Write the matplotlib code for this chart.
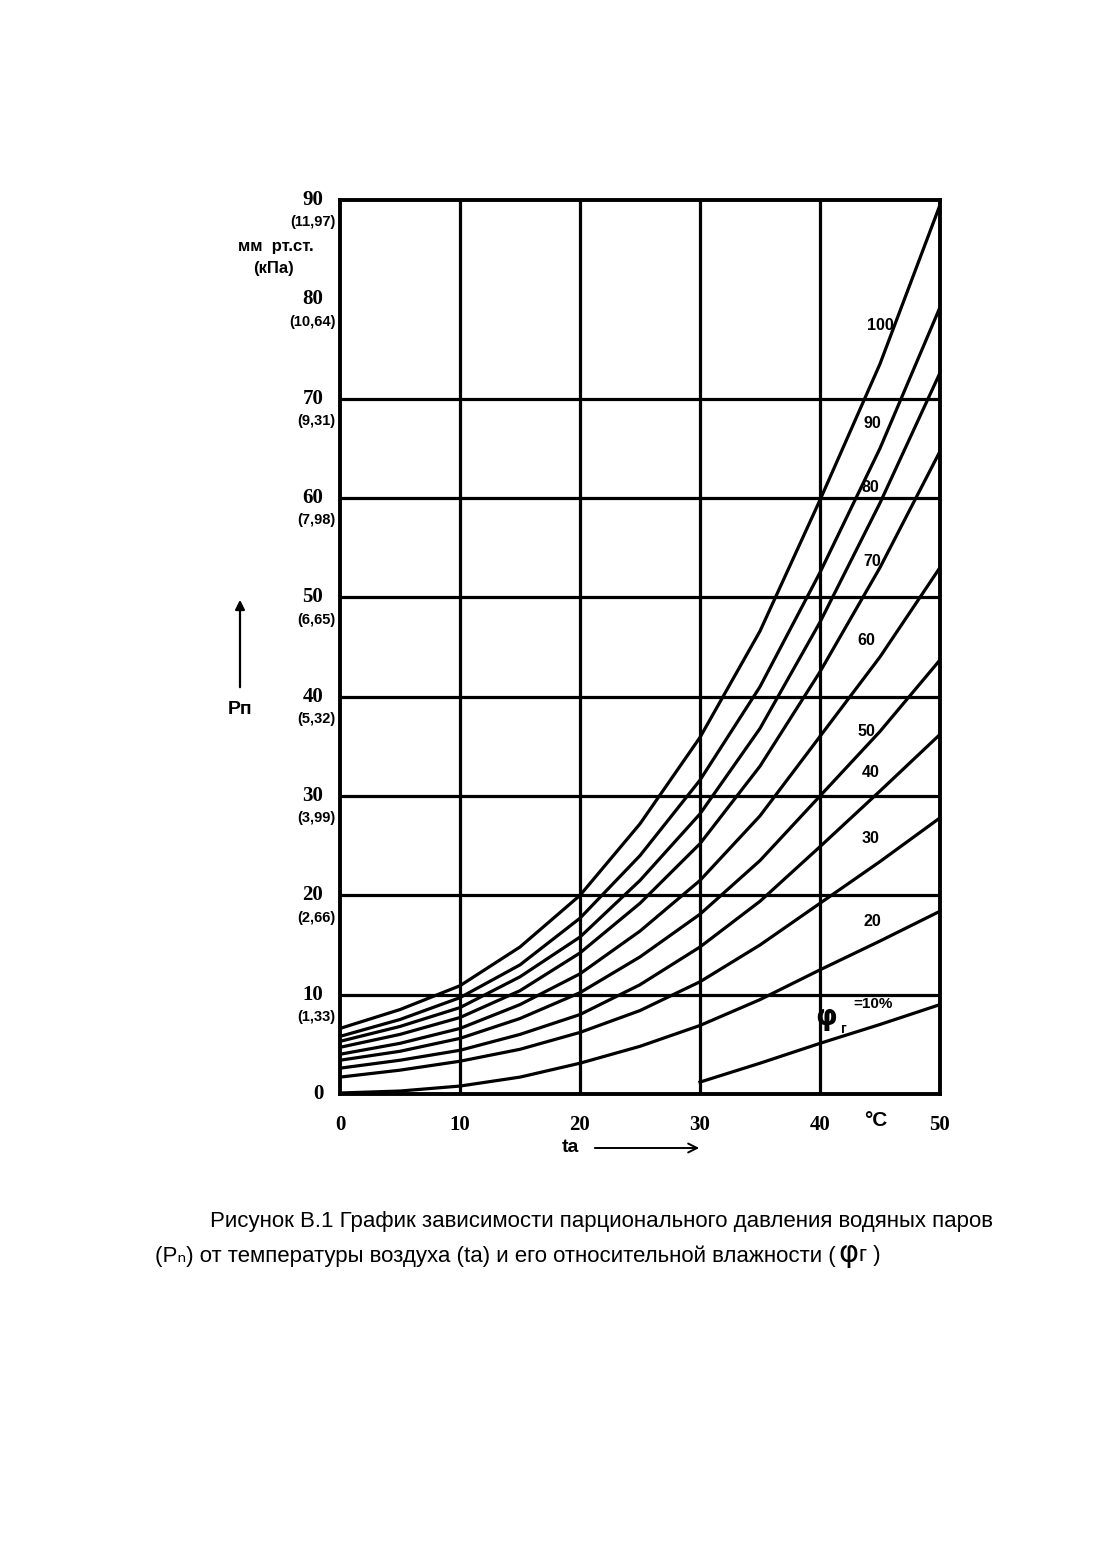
import numpy as np
import matplotlib
matplotlib.use('Agg')
import matplotlib.pyplot as plt

# temperature grid, deg C
temps = [0, 5, 10, 15, 20, 25, 30, 35, 40, 45, 50]

# partial pressure of water vapour, mm Hg
p_100 = [6.6, 8.5, 10.9, 14.8, 20.0, 27.2, 35.9, 46.6, 59.8, 73.5, 89.5]
p_90 = [5.8, 7.5, 9.7, 13.0, 17.7, 24.0, 31.6, 41.0, 52.5, 65.0, 79.2]
p_80 = [5.3, 6.8, 8.7, 11.8, 15.8, 21.5, 28.2, 36.8, 47.5, 59.5, 72.6]
p_70 = [4.7, 6.0, 7.7, 10.4, 14.2, 19.2, 25.2, 33.0, 42.5, 53.0, 64.7]
p_60 = [4.0, 5.1, 6.6, 9.0, 12.1, 16.4, 21.5, 28.0, 36.0, 44.0, 53.0]
p_50 = [3.4, 4.3, 5.6, 7.6, 10.2, 13.8, 18.1, 23.5, 30.0, 36.5, 43.7]
p_40 = [2.6, 3.4, 4.4, 6.0, 8.0, 11.0, 14.8, 19.4, 24.9, 30.5, 36.2]
p_30 = [1.7, 2.4, 3.3, 4.5, 6.2, 8.4, 11.3, 15.0, 19.2, 23.4, 27.8]
p_20 = [0.1, 0.3, 0.8, 1.7, 3.1, 4.8, 6.9, 9.5, 12.5, 15.4, 18.4]
# the 10 % curve is drawn only from 30 deg C on
temps_10 = [30, 35, 40, 45, 50]
p_10 = [1.2, 3.1, 5.1, 7.0, 9.0]

curves = [p_100, p_90, p_80, p_70, p_60, p_50, p_40, p_30, p_20]

y_ticks = [0, 10, 20, 30, 40, 50, 60, 70, 80, 90]
y_kpa = ['', '(1,33)', '(2,66)', '(3,99)', '(5,32)', '(6,65)', '(7,98)', '(9,31)', '(10,64)', '(11,97)']
x_ticks = [0, 10, 20, 30, 40, 50]
h_lines = [10, 20, 30, 40, 50, 60, 70]
v_lines = [10, 20, 30, 40]

curve_labels = ['100', '90', '80', '70', '60', '50', '40', '30', '20']
label_pos = [(880, 325), (872, 423), (870, 488), (872, 562), (866, 640),
             (866, 731), (871, 773), (871, 838), (872, 922)]

W, H = 1102, 1559
SANS = ['Liberation Sans', 'DejaVu Sans']
SERIF = ['Liberation Serif', 'DejaVu Serif']


def px(x, y):
    return x / W, 1 - y / H


fig = plt.figure(figsize=(W / 100, H / 100), dpi=100)
fig.patch.set_facecolor('white')
ax = fig.add_axes([340 / W, 1 - 1094 / H, 600 / W, 894 / H])

for y in h_lines:
    ax.axhline(y, color='black', lw=2.3, zorder=1)
for x in v_lines:
    ax.axvline(x, color='black', lw=2.3, zorder=1)

for vals in curves:
    ax.plot(temps, vals, color='black', lw=2.3, solid_capstyle='butt', zorder=2)
ax.plot(temps_10, p_10, color='black', lw=2.3, zorder=2)

ax.set_xlim(0, 50)
ax.set_ylim(0, 90)
ax.set_xticks([])
ax.set_yticks([])
for s in ax.spines.values():
    s.set_linewidth(2.8)

# y labels: mm Hg and kPa
for val, kpa in zip(y_ticks, y_kpa):
    ax.annotate(str(val), xy=(0, val), xycoords='data', xytext=(-12, 0),
                textcoords='offset points', ha='right', va='center',
                fontsize=15, fontweight='bold', family=SERIF)
    if kpa:
        ax.annotate(kpa, xy=(0, val), xycoords='data', xytext=(-3, -16),
                    textcoords='offset points', ha='right', va='center',
                    fontsize=10.5, fontweight='bold', family=SANS)

# x labels
for val in x_ticks:
    ax.annotate(str(val), xy=(val, 0), xycoords='data', xytext=(0, -22),
                textcoords='offset points', ha='center', va='center',
                fontsize=15, fontweight='bold', family=SERIF)

fig.text(*px(876, 1121), '°C', ha='center', va='center', fontsize=15,
         fontweight='bold', family=SANS)
fig.text(*px(276, 247), 'мм  рт.ст.', ha='center', va='center', fontsize=12,
         fontweight='bold', family=SANS)
fig.text(*px(274, 269), '(кПа)', ha='center', va='center', fontsize=12,
         fontweight='bold', family=SANS)

# Pп with arrow
fig.text(*px(240, 710), 'Pп', ha='center', va='center', fontsize=14,
         fontweight='bold', family=SANS)
fig.patches.append(matplotlib.patches.FancyArrowPatch(
    px(240, 690), px(240, 597), transform=fig.transFigure,
    arrowstyle='-|>', mutation_scale=14, lw=1.6, color='black'))

# ta with arrow
fig.text(*px(570, 1148), 'ta', ha='center', va='center', fontsize=14,
         fontweight='bold', family=SANS)
fig.patches.append(matplotlib.patches.FancyArrowPatch(
    px(592, 1148), px(702, 1148), transform=fig.transFigure,
    arrowstyle='->', mutation_scale=16, lw=1.4, color='black'))

# curve labels
for lab, (lx, ly) in zip(curve_labels, label_pos):
    fig.text(*px(lx, ly), lab, ha='center', va='center', fontsize=11.5,
             fontweight='bold', family=SANS)
fig.text(*px(826, 1017), 'φ', ha='center', va='center', fontsize=20,
         fontweight='bold', family=['DejaVu Sans'])
fig.text(*px(844, 1029), 'г', ha='center', va='center', fontsize=10,
         fontweight='bold', family=SANS)
fig.text(*px(873, 1004), '=10%', ha='center', va='center', fontsize=11,
         fontweight='bold', family=SANS)

# caption
fig.text(*px(210, 1222), 'Рисунок В.1 График зависимости парционального давления водяных паров',
         ha='left', va='center', fontsize=16, family=SANS)
fig.text(*px(155, 1256), '(Pₙ) от температуры воздуха (ta) и его относительной влажности (',
         ha='left', va='center', fontsize=16, family=SANS)
fig.text(*px(838, 1254), 'φ', ha='left', va='center', fontsize=22, family=['DejaVu Sans'])
fig.text(*px(859, 1256), 'г )', ha='left', va='center', fontsize=16, family=SANS)

fig.savefig('out.png', dpi=100)
